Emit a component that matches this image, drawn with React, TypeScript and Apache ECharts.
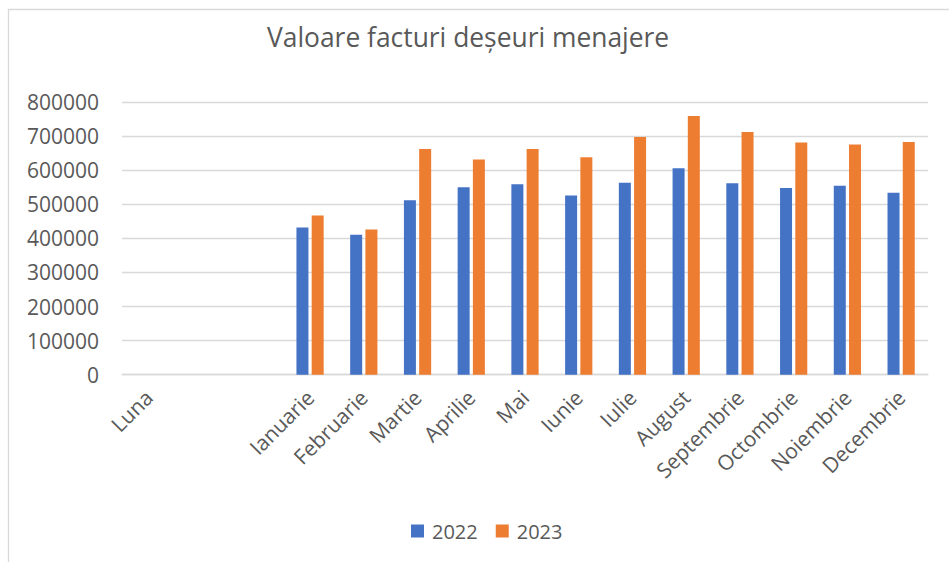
import React, { useEffect, useRef } from "react";
import * as echarts from "echarts";

const categories = ["Luna", "", "", "Ianuarie", "Februarie", "Martie", "Aprilie", "Mai", "Iunie", "Iulie", "August", "Septembrie", "Octombrie", "Noiembrie", "Decembrie"];
const values2022 = [null, null, null, 432000, 410500, 512000, 550000, 559000, 526000, 563000, 606000, 562000, 547500, 554000, 533700];
const values2023 = [null, null, null, 467000, 426000, 662000, 631500, 662000, 638000, 697000, 758600, 711700, 681500, 675600, 682400];
const seriesNames = ["2022", "2023"];
const titleText = "Valoare facturi deșeuri menajere";

const FONT = "'Open Sans', 'Noto Sans', sans-serif";
const TEXT = "#595959";

export default function App() {
  const ref = useRef<HTMLDivElement>(null);
  useEffect(() => {
    if (!ref.current) return;
    const chart = echarts.init(ref.current, null, { renderer: "svg" });
    chart.setOption({
      animation: false,
      backgroundColor: "#ffffff",
      textStyle: { fontFamily: FONT },
      graphic: [
        {
          type: "rect",
          shape: { x: 8.5, y: 9.5, width: 1000, height: 1000 },
          style: { fill: "none", stroke: "#D9D9D9", lineWidth: 1.3 },
          silent: true,
        },
      ],
      title: {
        text: titleText,
        left: 267,
        top: 24,
        padding: 0,
        textStyle: { fontFamily: FONT, fontSize: 26.4, fontWeight: "normal", color: TEXT },
      },
      legend: {
        data: seriesNames,
        left: 411,
        top: 521,
        padding: 0,
        itemWidth: 13,
        itemHeight: 13,
        itemGap: 18,
        icon: "rect",
        textStyle: { fontFamily: FONT, fontSize: 20, color: TEXT, padding: [0, 0, 0, 3] },
      },
      grid: { left: 122, right: 21, top: 102, bottom: 187.3, containLabel: false },
      xAxis: {
        type: "category",
        data: categories,
        axisLine: { show: true, lineStyle: { color: "#D9D9D9", width: 1.3 } },
        axisTick: { show: false },
        axisLabel: {
          interval: 0,
          rotate: 45,
          margin: 19,
          fontFamily: FONT,
          fontSize: 21,
          color: TEXT,
        },
      },
      yAxis: {
        type: "value",
        min: 0,
        max: 800000,
        interval: 100000,
        axisLine: { show: false },
        axisTick: { show: false },
        splitLine: { lineStyle: { color: "#D9D9D9", width: 1.3 } },
        axisLabel: {
          margin: 23,
          fontFamily: FONT,
          fontSize: 21,
          color: TEXT,
          formatter: (v: number) => String(v),
        },
      },
      series: [
        {
          name: seriesNames[0],
          type: "bar",
          data: values2022,
          barWidth: 12,
          barGap: "27%",
          itemStyle: { color: "#4472C4" },
        },
        {
          name: seriesNames[1],
          type: "bar",
          data: values2023,
          barWidth: 12,
          barGap: "27%",
          itemStyle: { color: "#ED7D31" },
        },
      ],
    });
    return () => chart.dispose();
  }, []);
  return (
    <div
      ref={ref}
      style={{ position: "absolute", left: 0, top: 0, width: 949, height: 562 }}
    />
  );
}
